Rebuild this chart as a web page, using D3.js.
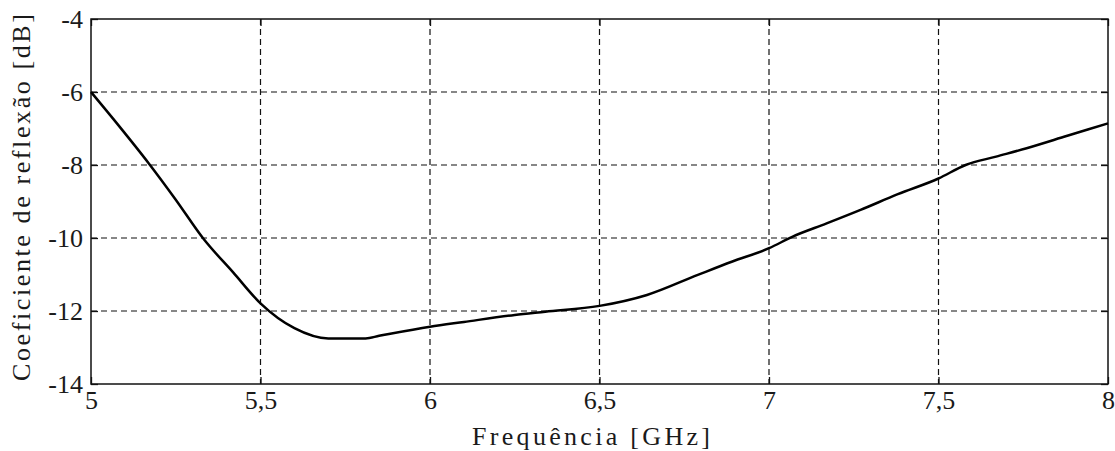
<!DOCTYPE html>
<html>
<head>
<meta charset="utf-8">
<script src="https://cdn.jsdelivr.net/npm/d3@7"></script>
<style>
  html, body { margin: 0; padding: 0; background: #fff; }
  svg { display: block; }
</style>
</head>
<body>
<svg id="chart" width="1115" height="451" font-family="Liberation Serif"></svg>
<script>
// Measured reflection coefficient vs. frequency
const frequencies = [5.0, 5.08, 5.17, 5.25, 5.33, 5.42, 5.5, 5.6, 5.7, 5.81, 5.85, 6.0, 6.1, 6.25, 6.34, 6.5, 6.64, 6.79, 6.89, 7.0, 7.07, 7.17, 7.27, 7.38, 7.5, 7.58, 7.67, 7.76, 7.88, 8.0];
const reflection  = [-6.0, -6.9, -7.95, -8.95, -10.0, -10.95, -11.79, -12.47, -12.75, -12.75, -12.68, -12.43, -12.3, -12.11, -12.02, -11.86, -11.56, -11.01, -10.65, -10.28, -9.96, -9.6, -9.23, -8.8, -8.37, -8.0, -7.77, -7.54, -7.2, -6.86];

const xTicks = [5, 5.5, 6, 6.5, 7, 7.5, 8];
const yTicks = [-14, -12, -10, -8, -6, -4];
const xTitle = "Frequência [GHz]";
const yTitle = "Coeficiente de reflexão [dB]";

const FONT = "Liberation Serif";
const INK = "#1a1a1a";

const svg = d3.select("#chart");
const plotL = 91, plotR = 1108, plotT = 19, plotB = 384;

const x = d3.scaleLinear().domain([5, 8]).range([plotL, plotR]);
const y = d3.scaleLinear().domain([-14, -4]).range([plotB, plotT]);
const fmt = d => String(d).replace(".", ",");

// dashed grid
const grid = svg.append("g").attr("stroke", "#111").attr("stroke-width", 1.2).attr("stroke-dasharray", "6,4");
grid.selectAll("line.v").data(xTicks.slice(1, -1)).join("line").attr("class", "v")
  .attr("x1", d => x(d)).attr("x2", d => x(d)).attr("y1", plotT).attr("y2", plotB);
grid.selectAll("line.h").data(yTicks.slice(1, -1)).join("line").attr("class", "h")
  .attr("y1", d => y(d)).attr("y2", d => y(d)).attr("x1", plotL).attr("x2", plotR);

// inner ticks on all four sides
const axisBottom = d3.axisBottom(x).tickValues(xTicks).tickSize(-7).tickFormat(fmt).tickPadding(7);
const axisLeft = d3.axisLeft(y).tickValues(yTicks).tickSize(-7).tickFormat(d => d).tickPadding(8);
const axisTop = d3.axisTop(x).tickValues(xTicks).tickSize(-7).tickFormat("");
const axisRight = d3.axisRight(y).tickValues(yTicks).tickSize(-7).tickFormat("");

function style(g) {
  g.attr("font-family", FONT).attr("font-size", 26);
  g.select(".domain").remove();
  g.selectAll(".tick line").attr("stroke", "#111").attr("stroke-width", 1.3);
  g.selectAll(".tick text").attr("fill", INK).attr("font-family", FONT).attr("font-size", 26);
}
svg.append("g").attr("transform", `translate(0,${plotB})`).call(axisBottom).call(style);
svg.append("g").attr("transform", `translate(${plotL},0)`).call(axisLeft).call(style);
svg.append("g").attr("transform", `translate(0,${plotT})`).call(axisTop).call(style);
svg.append("g").attr("transform", `translate(${plotR},0)`).call(axisRight).call(style);

// frame
svg.append("rect").attr("x", plotL).attr("y", plotT).attr("width", plotR - plotL).attr("height", plotB - plotT)
  .attr("fill", "none").attr("stroke", "#111").attr("stroke-width", 1.5);

// curve
const pts = frequencies.map((f, i) => [f, reflection[i]]);
svg.append("path").datum(pts)
  .attr("fill", "none").attr("stroke", "#000").attr("stroke-width", 2.5)
  .attr("stroke-linejoin", "round")
  .attr("d", d3.line().x(d => x(d[0])).y(d => y(d[1])).curve(d3.curveMonotoneX));

// axis titles
svg.append("text").attr("x", 472).attr("y", 445)
  .attr("textLength", 238).attr("lengthAdjust", "spacing")
  .attr("font-family", FONT).attr("font-size", 26).attr("fill", INK).text(xTitle);
svg.append("text").attr("transform", "translate(30,381) rotate(-90)")
  .attr("textLength", 367).attr("lengthAdjust", "spacing")
  .attr("font-family", FONT).attr("font-size", 26).attr("fill", INK).text(yTitle);
</script>
</body>
</html>
